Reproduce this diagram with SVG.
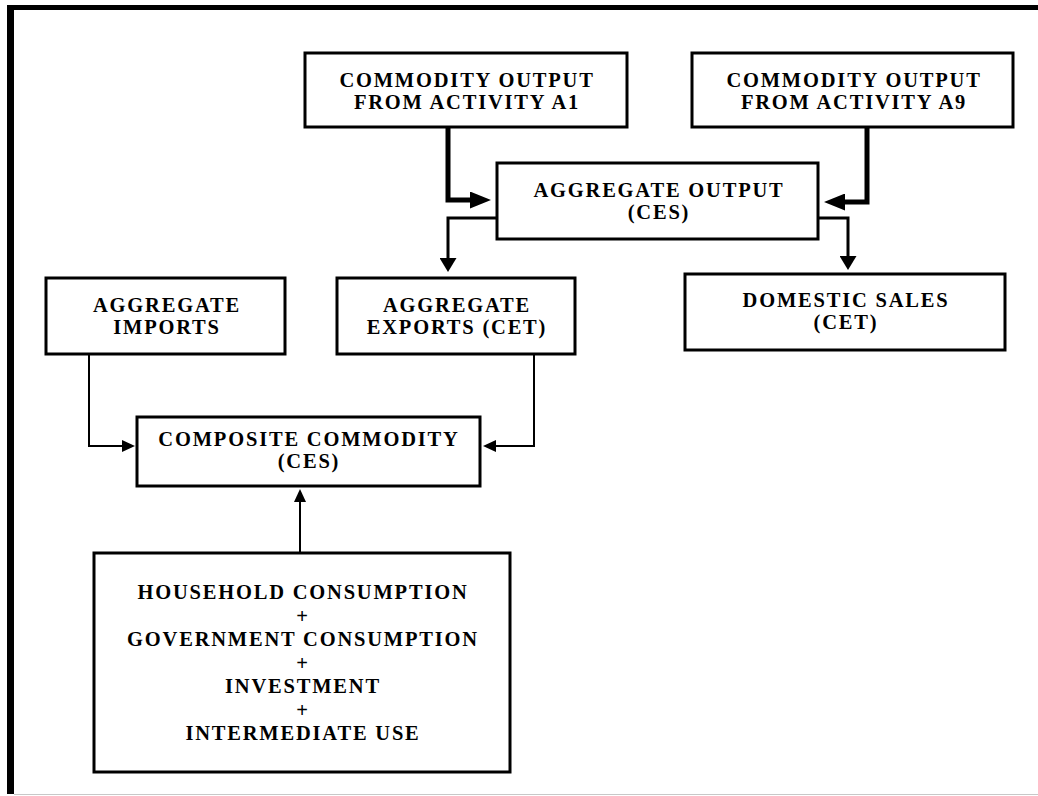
<svg xmlns="http://www.w3.org/2000/svg" width="1038" height="796" viewBox="0 0 1038 796">
  <style>
    .box { fill: #ffffff; stroke: #000000; stroke-width: 3; }
    .lbl { font-family: "Liberation Serif", "Times New Roman", serif; font-weight: bold; font-size: 20.5px; letter-spacing: 1.8px; fill: #000000; text-anchor: middle; }
    .heavy { fill: none; stroke: #000000; stroke-width: 5; stroke-linejoin: miter; }
    .medium { fill: none; stroke: #000000; stroke-width: 3; stroke-linejoin: miter; }
    .thin { fill: none; stroke: #000000; stroke-width: 2; stroke-linejoin: miter; }
  </style>
  <defs>
    <marker id="arrowHeavy" viewBox="0 0 21 17" markerUnits="userSpaceOnUse" markerWidth="21" markerHeight="17" refX="1" refY="8.5" orient="auto">
      <path d="M0,0 L21,8.5 L0,17 z" fill="#000000"/>
    </marker>
    <marker id="arrowMedium" viewBox="0 0 14 17" markerUnits="userSpaceOnUse" markerWidth="14" markerHeight="17" refX="1" refY="8.5" orient="auto">
      <path d="M0,0 L14,8.5 L0,17 z" fill="#000000"/>
    </marker>
    <marker id="arrowThin" viewBox="0 0 13 12" markerUnits="userSpaceOnUse" markerWidth="13" markerHeight="12" refX="1" refY="6" orient="auto">
      <path d="M0,0 L13,6 L0,12 z" fill="#000000"/>
    </marker>
  </defs>

  <rect x="0" y="0" width="1038" height="796" fill="#ffffff"/>

  <!-- page frame -->
  <g id="frame">
    <rect x="7" y="5" width="1031" height="5" fill="#000000"/>
    <rect x="7" y="5" width="7" height="789" fill="#000000"/>
    <line x1="14" y1="794.5" x2="1038" y2="794.5" stroke="#c8c8c8" stroke-width="1"/>
  </g>

  <!-- connectors -->
  <g id="connectors">
    <path class="heavy" d="M448,127 V200 H471" marker-end="url(#arrowHeavy)"/>
    <path class="heavy" d="M867,127 V202 H844" marker-end="url(#arrowHeavy)"/>
    <path class="medium" d="M497,218 H448 V259" marker-end="url(#arrowMedium)"/>
    <path class="medium" d="M818,218 H848 V257" marker-end="url(#arrowMedium)"/>
    <path class="thin" d="M89,354 V446 H123" marker-end="url(#arrowThin)"/>
    <path class="thin" d="M534,354 V446 H495" marker-end="url(#arrowThin)"/>
    <path class="thin" d="M300,553 V501" marker-end="url(#arrowThin)"/>
  </g>

  <g id="output-a1">
    <rect class="box" x="305" y="53" width="322" height="74"/>
    <text class="lbl" x="467" y="86.5">COMMODITY OUTPUT</text>
    <text class="lbl" x="467" y="108.5">FROM ACTIVITY A1</text>
  </g>

  <g id="output-a9">
    <rect class="box" x="692" y="53" width="321" height="74"/>
    <text class="lbl" x="854" y="86.5">COMMODITY OUTPUT</text>
    <text class="lbl" x="854" y="108.5">FROM ACTIVITY A9</text>
  </g>

  <g id="aggregate-output">
    <rect class="box" x="497" y="163" width="321" height="76"/>
    <text class="lbl" x="659" y="196.5">AGGREGATE OUTPUT</text>
    <text class="lbl" x="659" y="218.5">(CES)</text>
  </g>

  <g id="aggregate-imports">
    <rect class="box" x="46" y="278" width="239" height="76"/>
    <text class="lbl" x="167" y="312">AGGREGATE</text>
    <text class="lbl" x="167" y="334">IMPORTS</text>
  </g>

  <g id="aggregate-exports">
    <rect class="box" x="337" y="278" width="238" height="76"/>
    <text class="lbl" x="457" y="312">AGGREGATE</text>
    <text class="lbl" x="457" y="334">EXPORTS (CET)</text>
  </g>

  <g id="domestic-sales">
    <rect class="box" x="685" y="274" width="320" height="76"/>
    <text class="lbl" x="846" y="306.5">DOMESTIC SALES</text>
    <text class="lbl" x="846" y="328.5">(CET)</text>
  </g>

  <g id="composite-commodity">
    <rect class="box" x="137" y="417" width="343" height="69"/>
    <text class="lbl" x="309" y="445.5">COMPOSITE COMMODITY</text>
    <text class="lbl" x="309" y="467.5">(CES)</text>
  </g>

  <g id="final-demand">
    <rect class="box" x="94" y="553" width="416" height="219"/>
    <text class="lbl" x="303" y="599">HOUSEHOLD CONSUMPTION</text>
    <text class="lbl" x="303" y="623">+</text>
    <text class="lbl" x="303" y="646">GOVERNMENT CONSUMPTION</text>
    <text class="lbl" x="303" y="670">+</text>
    <text class="lbl" x="303" y="693">INVESTMENT</text>
    <text class="lbl" x="303" y="717">+</text>
    <text class="lbl" x="303" y="740">INTERMEDIATE USE</text>
  </g>
</svg>
